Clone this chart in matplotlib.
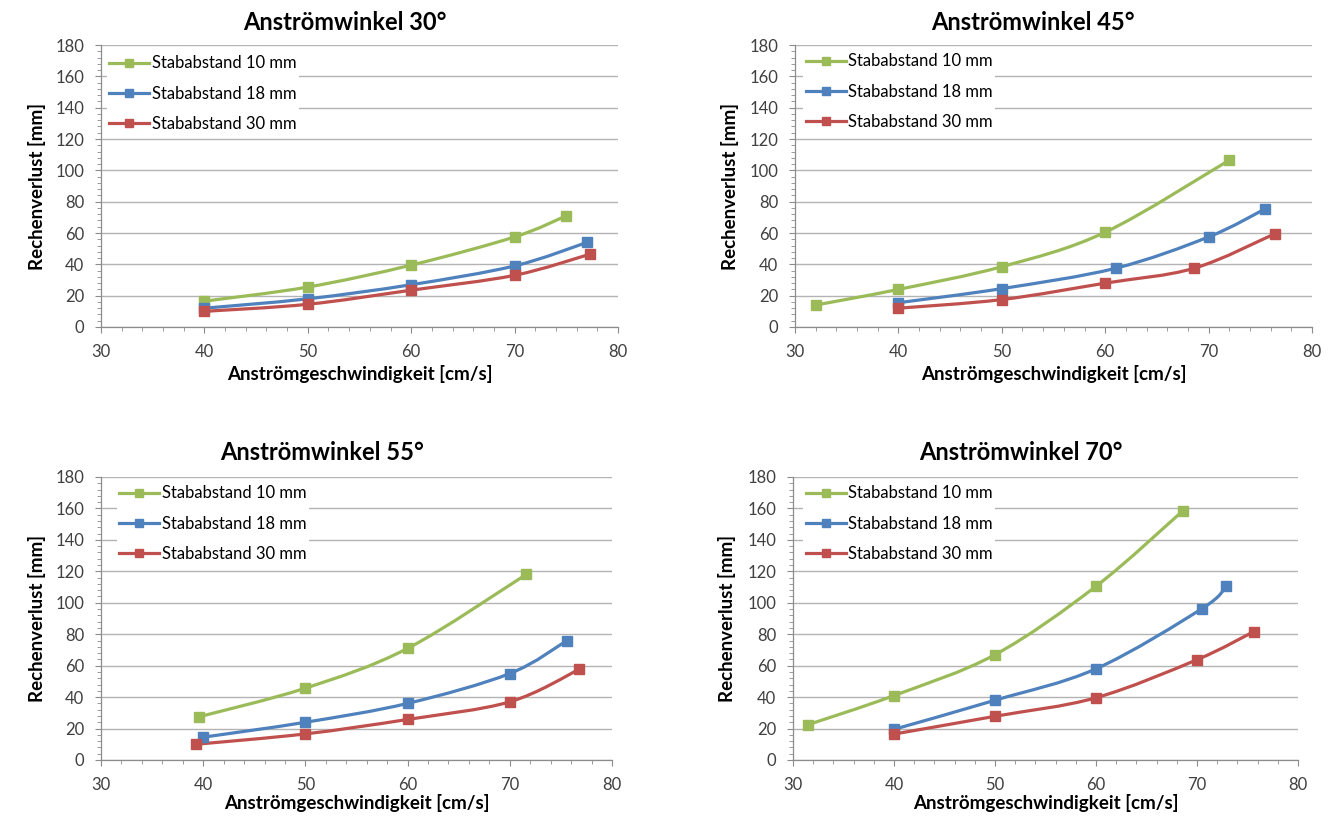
import numpy as np
import matplotlib
matplotlib.use("Agg")
import matplotlib.pyplot as plt
from matplotlib.path import Path
from matplotlib.patches import PathPatch
from matplotlib.lines import Line2D
from matplotlib.ticker import MultipleLocator

plt.rcParams['font.family'] = ['Lato', 'DejaVu Sans']

# data (x = Anströmgeschwindigkeit, y = Rechenverlust)
titles = ["Anströmwinkel 30°", "Anströmwinkel 45°", "Anströmwinkel 55°", "Anströmwinkel 70°"]
labels = ["Stababstand 10 mm", "Stababstand 18 mm", "Stababstand 30 mm"]
colors = ["#9BBB59", "#4F81BD", "#C0504D"]

# 30°
x30_10 = [40, 50, 60, 70, 75]
y30_10 = [16.5, 25.5, 39.5, 57.5, 71]
x30_18 = [40, 50, 60, 70, 77]
y30_18 = [12, 18, 27, 39, 54]
x30_30 = [40, 50, 60, 70, 77.3]
y30_30 = [10, 14.5, 23.5, 33, 46.5]

# 45°
x45_10 = [32, 40, 50, 60, 72]
y45_10 = [14, 24, 38.5, 60.5, 106.5]
x45_18 = [40, 50, 61, 70, 75.5]
y45_18 = [15.5, 24.5, 37.5, 57.5, 75.5]
x45_30 = [40, 50, 60, 68.6, 76.4]
y45_30 = [12, 17.5, 28, 37.5, 59.5]

# 55°
x55_10 = [39.6, 50, 60, 71.6]
y55_10 = [27.5, 45.7, 71, 118]
x55_18 = [40, 50, 60, 70, 75.6]
y55_18 = [14.5, 24, 36, 55, 76]
x55_30 = [39.3, 50, 60, 70, 76.8]
y55_30 = [10, 16.6, 25.8, 37, 57.7]

# 70°
x70_10 = [31.5, 40, 50, 60, 68.6]
y70_10 = [22.5, 41, 67, 110.5, 158.5]
x70_18 = [40, 50, 60, 70.5, 72.9]
y70_18 = [19.5, 38, 58, 96.3, 110.5]
x70_30 = [40, 50, 60, 70, 75.6]
y70_30 = [16.5, 27.8, 39.6, 63.8, 81.6]

panels = [
    [(x30_10, y30_10), (x30_18, y30_18), (x30_30, y30_30)],
    [(x45_10, y45_10), (x45_18, y45_18), (x45_30, y45_30)],
    [(x55_10, y55_10), (x55_18, y55_18), (x55_30, y55_30)],
    [(x70_10, y70_10), (x70_18, y70_18), (x70_30, y70_30)],
]

W, H = 1333, 818
# axes boxes in pixels: left, right, top, bottom
boxes = [(101, 618, 45, 327), (795, 1312, 45, 327),
         (101, 612, 477, 760), (793, 1298, 477, 760)]
title_pos = [(345, 23), (1033, 22), (322, 453), (1021, 452)]
ylabel_x = [37, 730, 37, 727]
xlabel_y = [374, 374, 803, 803]
legend_xy = [(107, 53), (803, 51), (117, 483), (803, 483)]


def smooth_path(x, y):
    # excel-like smoothed line: catmull-rom segments as cubic bezier
    p = np.column_stack([x, y]).astype(float)
    n = len(p)
    verts = [p[0]]
    codes = [Path.MOVETO]
    for i in range(n - 1):
        p0 = p[i - 1] if i > 0 else p[i]
        p1 = p[i]
        p2 = p[i + 1]
        p3 = p[i + 2] if i + 2 < n else p[i + 1]
        c1 = p1 + (p2 - p0) / 6.0
        c2 = p2 - (p3 - p1) / 6.0
        verts += [c1, c2, p2]
        codes += [Path.CURVE4] * 3
    return Path(verts, codes)


fig = plt.figure(figsize=(W / 100, H / 100), dpi=100)

for k in range(4):
    l, r, t, b = boxes[k]
    aw, ah = r - l, b - t
    ax = fig.add_axes([l / W, 1 - b / H, aw / W, ah / H])
    for j, (x, y) in enumerate(panels[k]):
        ax.add_patch(PathPatch(smooth_path(x, y), fill=False, edgecolor=colors[j],
                               lw=2.3, capstyle='round', joinstyle='round', zorder=3))
        ax.plot(x, y, ls='none', marker='s', ms=7.5, color=colors[j], zorder=4)
    ax.set_xlim(30, 80)
    ax.set_ylim(0, 180)
    ax.xaxis.set_major_locator(MultipleLocator(10))
    ax.xaxis.set_minor_locator(MultipleLocator(2))
    ax.yaxis.set_major_locator(MultipleLocator(20))
    ax.yaxis.set_minor_locator(MultipleLocator(4))
    ax.grid(axis='y', which='major', color='#b3b3b3', lw=1.0)
    ax.set_axisbelow(True)
    for s in ['top', 'right']:
        ax.spines[s].set_visible(False)
    for s in ['left', 'bottom']:
        ax.spines[s].set_color('#8c8c8c')
        ax.spines[s].set_linewidth(0.9)
    ax.tick_params(which='major', direction='out', length=4, color='#8c8c8c',
                   labelsize=12, labelcolor='#404040')
    ax.tick_params(axis='y', which='major', pad=8)
    ax.tick_params(axis='x', which='major', pad=8)
    ax.tick_params(which='minor', direction='out', length=3, color='#8c8c8c')
    ax.set_xlabel("Anströmgeschwindigkeit [cm/s]", fontsize=13.5, fontweight='bold', va='center')
    ax.set_ylabel("Rechenverlust [mm]", fontsize=13.5, fontweight='bold', va='center')
    ax.xaxis.set_label_coords(0.5, -(xlabel_y[k] - b) / ah)
    ax.yaxis.set_label_coords(-(l - ylabel_x[k]) / aw, 0.5)

    handles = [Line2D([], [], color=c, lw=2.3, marker='s', ms=6) for c in colors]
    lx, ly = legend_xy[k]
    leg = ax.legend(handles, labels, loc='upper left',
                    bbox_to_anchor=((lx - l) / aw, 1 - (ly - t) / ah),
                    frameon=True, fancybox=False, fontsize=12, handlelength=2.4,
                    handletextpad=0.15, labelspacing=0.85, borderpad=0.15,
                    borderaxespad=0.0)
    leg.get_frame().set_edgecolor('none')
    leg.get_frame().set_facecolor('white')
    leg.get_frame().set_alpha(1.0)
    leg.set_zorder(5)

    tx, ty = title_pos[k]
    fig.text(tx / W, 1 - ty / H, titles[k], fontsize=17, fontweight='bold',
             ha='center', va='center')

fig.savefig("out.png", dpi=100, facecolor='white')
